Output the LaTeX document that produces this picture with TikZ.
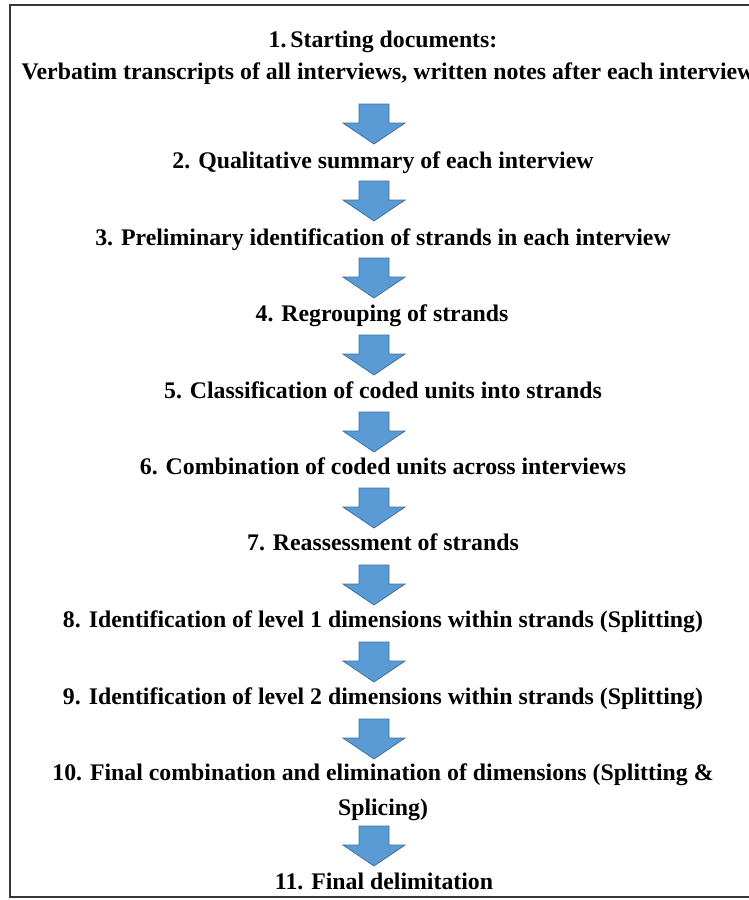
\documentclass[tikz,border=0pt]{standalone}
\usepackage{fontspec}
\setmainfont{Liberation Serif}
\definecolor{arrowblue}{RGB}{91,155,213}
\definecolor{arrowedge}{RGB}{65,113,156}
\definecolor{framegray}{RGB}{55,55,55}
\begin{document}
\begin{tikzpicture}[x=1pt,y=-1pt,
  stepnode/.style={anchor=base,inner sep=0pt,font=\bfseries\fontsize{23.8}{28}\selectfont,text=black},
  arrowshape/.style={fill=arrowblue,draw=arrowedge,line width=0.8pt,line join=miter},
  framestyle/.style={draw=framegray,line width=2.5pt},
  blockarrow/.pic={\path[arrowshape] (-15,0) -- (15,0) -- (15,19) -- (31,19) -- (0,40) -- (-31,19) -- (-15,19) -- cycle;}
]
\useasboundingbox (0,0) rectangle (749,900);
\fill[white] (0,0) rectangle (749,900);
\draw[framestyle] (10,5) rectangle (775,897);

\node[stepnode] (t1a) at (383,47) {1.\,Starting documents:};
\node[stepnode] (t1b) at (388,79) {Verbatim transcripts of all interviews, written notes after each interview};
\node[stepnode] (t2) at (383,168) {2. Qualitative summary of each interview};
\node[stepnode] (t3) at (383,245) {3. Preliminary identification of strands in each interview};
\node[stepnode] (t4) at (382,321) {4. Regrouping of strands};
\node[stepnode] (t5) at (383,398) {5. Classification of coded units into strands};
\node[stepnode] (t6) at (383,474) {6. Combination of coded units across interviews};
\node[stepnode] (t7) at (383,550) {7. Reassessment of strands};
\node[stepnode] (t8) at (383,627) {8. Identification of level 1 dimensions within strands (Splitting)};
\node[stepnode] (t9) at (383,704) {9. Identification of level 2 dimensions within strands (Splitting)};
\node[stepnode] (t10a) at (383,780) {10. Final combination and elimination of dimensions (Splitting \&};
\node[stepnode] (t10b) at (383,815) {Splicing)};
\node[stepnode] (t11) at (384,889) {11. Final delimitation};

\pic (a1) at (374,104) {blockarrow};
\pic (a2) at (374,181) {blockarrow};
\pic (a3) at (374,258) {blockarrow};
\pic (a4) at (374,335) {blockarrow};
\pic (a5) at (374,412) {blockarrow};
\pic (a6) at (374,488) {blockarrow};
\pic (a7) at (374,565) {blockarrow};
\pic (a8) at (374,642) {blockarrow};
\pic (a9) at (374,719) {blockarrow};
\pic (a10) at (374,826) {blockarrow};
\end{tikzpicture}
\end{document}
